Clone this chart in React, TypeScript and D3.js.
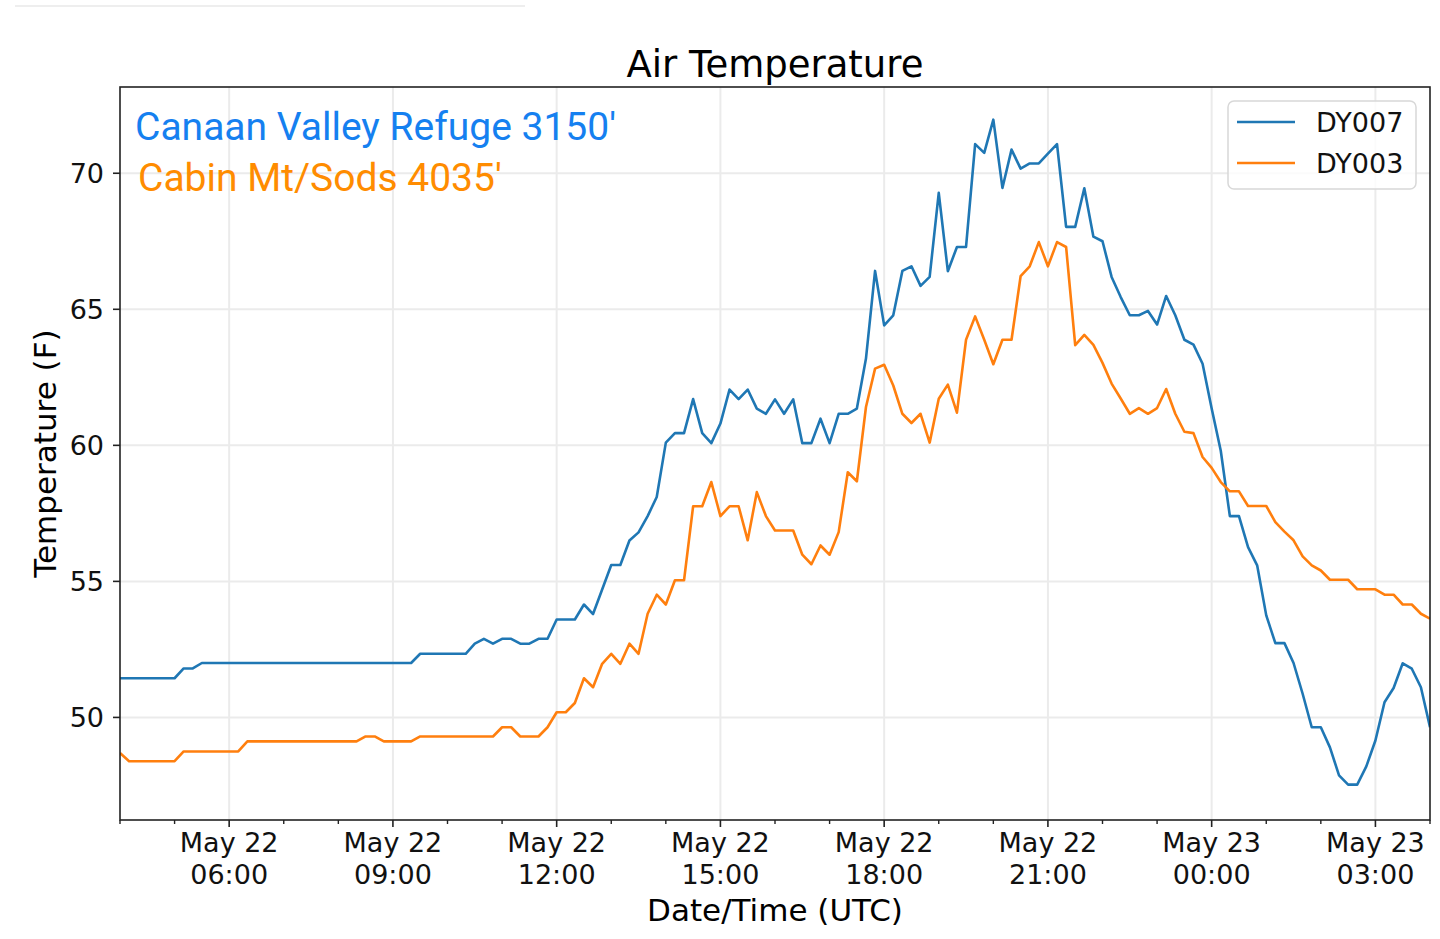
import React, { FC, useMemo } from "react";
import * as d3 from "d3";

// 10-minute samples, May 22 04:00 UTC to May 23 04:00 UTC
const startTime = "2019-05-22T04:00:00Z";
const endTime = "2019-05-23T04:00:00Z";
const stepMinutes = 10;

const seriesNames = ["DY007", "DY003"];

const dy007 = [
    51.44, 51.44, 51.44, 51.44, 51.44, 51.44, 51.44,
    51.8, 51.8,
    52.0, 52.0, 52.0, 52.0, 52.0, 52.0, 52.0, 52.0, 52.0, 52.0, 52.0, 52.0,
    52.0, 52.0, 52.0, 52.0, 52.0, 52.0, 52.0, 52.0, 52.0, 52.0, 52.0, 52.0,
    52.34, 52.34, 52.34, 52.34, 52.34, 52.34,
    52.71, 52.89, 52.71, 52.89, 52.89, 52.71, 52.71, 52.89, 52.89,
    53.6, 53.6, 53.6, 54.15, 53.8, 54.7, 55.6, 55.6, 56.5, 56.8, 57.4, 58.1,
    60.1, 60.45, 60.45, 61.7, 60.45, 60.08, 60.8, 62.05, 61.7, 62.05,
    61.35, 61.16, 61.69, 61.16, 61.69, 60.08, 60.08, 60.98, 60.08, 61.16,
    61.16, 61.35, 63.19, 66.41, 64.41, 64.78, 66.41, 66.58, 65.86, 66.19,
    69.28, 66.4, 67.29, 67.29, 71.07, 70.75, 71.97, 69.46, 70.87, 70.17,
    70.36, 70.36, 70.72, 71.07, 68.03, 68.03, 69.45, 67.67, 67.5, 66.19,
    65.45, 64.78, 64.78, 64.94, 64.44, 65.49, 64.78, 63.88, 63.7, 63.0,
    61.35, 59.8, 57.4, 57.4, 56.26, 55.59, 53.75, 52.73, 52.73, 52.0,
    50.87, 49.64, 49.64, 48.9, 47.87, 47.53, 47.53, 48.2, 49.15, 50.56,
    51.08, 51.99, 51.79, 51.11, 49.64,
];

const dy003 = [
    48.69,
    48.39, 48.39, 48.39, 48.39, 48.39, 48.39,
    48.75, 48.75, 48.75, 48.75, 48.75, 48.75, 48.75,
    49.12, 49.12, 49.12, 49.12, 49.12, 49.12, 49.12, 49.12, 49.12, 49.12, 49.12, 49.12, 49.12,
    49.3, 49.3,
    49.12, 49.12, 49.12, 49.12,
    49.3, 49.3, 49.3, 49.3, 49.3, 49.3, 49.3, 49.3, 49.3,
    49.64, 49.64, 49.3, 49.3, 49.3, 49.64,
    50.19, 50.19, 50.53, 51.44, 51.11, 51.97, 52.34, 51.97, 52.71, 52.34, 53.81, 54.51,
    54.15, 55.04, 55.04, 57.76, 57.76, 58.65, 57.4, 57.76, 57.76, 56.51,
    58.28, 57.4, 56.87, 56.87, 56.87, 55.98, 55.63, 56.32, 55.98, 56.81,
    59.01, 58.68, 61.41, 62.82, 62.96, 62.2, 61.16, 60.82, 61.16, 60.1,
    61.71, 62.23, 61.2, 63.88, 64.74, 63.88, 62.98, 63.88, 63.88, 66.22,
    66.58, 67.47, 66.58, 67.47, 67.29, 63.68, 64.06, 63.69, 63.03, 62.27,
    61.72, 61.16, 61.37, 61.16, 61.37, 62.07, 61.16, 60.5, 60.45, 59.57,
    59.17, 58.65, 58.31, 58.31, 57.77, 57.77, 57.77, 57.18, 56.83, 56.51,
    55.92, 55.59, 55.4, 55.06, 55.06, 55.06, 54.71, 54.71, 54.71, 54.51,
    54.51, 54.15, 54.15, 53.81, 53.63,
];

const yTickValues = [50, 55, 60, 65, 70];
const yDomain = [46.23, 73.17];

const title = "Air Temperature";
const xLabel = "Date/Time (UTC)";
const yLabel = "Temperature (F)";
const stationLabels = ["Canaan Valley Refuge 3150'", "Cabin Mt/Sods 4035'"];

const blueColor = "#1f77b4";
const orangeColor = "#ff7f0e";
const labelColors = ["#1580f0", "#ff8c00"];
const gridColor = "#ebebeb";
const axisFont = "'DejaVu Sans', sans-serif";

const width = 1440;
const height = 939;
const marginLeft = 120;
const marginRight = 10;
const marginTop = 87;
const marginBottom = 119;

const App: FC = () => {
    const times = useMemo(() => {
        const t0 = new Date(startTime).getTime();
        return dy007.map((_, i) => new Date(t0 + i * stepMinutes * 60000));
    }, []);

    const x = useMemo(
        () =>
            d3.scaleUtc(
                [new Date(startTime), new Date(endTime)],
                [marginLeft, width - marginRight]
            ),
        []
    );

    const y = useMemo(
        () => d3.scaleLinear(yDomain, [height - marginBottom, marginTop]),
        []
    );

    const majorTicks = x.ticks(d3.utcHour.every(3) as any);
    const minorTicks = x
        .ticks(d3.utcHour.every(1) as any)
        .filter((d: Date) => d.getUTCHours() % 3 !== 0);

    const fmtDay = d3.utcFormat("%b %d");
    const fmtHour = d3.utcFormat("%H:%M");

    const line = d3
        .line<number>()
        .x((_, i) => x(times[i]))
        .y((d) => y(d));

    const plotRight = width - marginRight;
    const plotBottom = height - marginBottom;
    const plotCx = (marginLeft + plotRight) / 2;

    return (
        <svg
            width={width}
            height={height}
            style={{ position: "absolute", top: 0, left: 0, display: "block", background: "#fff" }}
        >
            <line x1={15} x2={525} y1={6} y2={6} stroke="#eeeeee" strokeWidth={2} />

            {/* grid */}
            <g>
                {majorTicks.map((d: Date, i: number) => (
                    <line
                        key={"vx" + i}
                        x1={x(d)}
                        x2={x(d)}
                        y1={marginTop}
                        y2={plotBottom}
                        stroke={gridColor}
                        strokeWidth={2}
                    />
                ))}
                {yTickValues.map((d, i) => (
                    <line
                        key={"hy" + i}
                        x1={marginLeft}
                        x2={plotRight}
                        y1={y(d)}
                        y2={y(d)}
                        stroke={gridColor}
                        strokeWidth={2}
                    />
                ))}
            </g>

            {/* series */}
            <g clipPath="url(#plotClip)">
                <defs>
                    <clipPath id="plotClip">
                        <rect x={marginLeft} y={marginTop} width={plotRight - marginLeft} height={plotBottom - marginTop} />
                    </clipPath>
                </defs>
                <path d={line(dy007) || ""} fill="none" stroke={blueColor} strokeWidth={2.6} strokeLinejoin="round" />
                <path d={line(dy003) || ""} fill="none" stroke={orangeColor} strokeWidth={2.6} strokeLinejoin="round" />
            </g>

            {/* frame */}
            <rect
                x={marginLeft}
                y={marginTop}
                width={plotRight - marginLeft}
                height={plotBottom - marginTop}
                fill="none"
                stroke="#222"
                strokeWidth={1.6}
            />

            {/* x axis */}
            <g fontFamily={axisFont} fontSize={27} fill="#111">
                {minorTicks.map((d: Date, i: number) => (
                    <line key={"mn" + i} x1={x(d)} x2={x(d)} y1={plotBottom} y2={plotBottom + 4} stroke="#222" strokeWidth={1.4} />
                ))}
                {majorTicks.map((d: Date, i: number) => (
                    <g key={"mj" + i} transform={`translate(${x(d)},0)`}>
                        <line y1={plotBottom} y2={plotBottom + 7} stroke="#222" strokeWidth={1.6} />
                        <text y={852} textAnchor="middle">{fmtDay(d)}</text>
                        <text y={884} textAnchor="middle">{fmtHour(d)}</text>
                    </g>
                ))}
            </g>

            {/* y axis */}
            <g fontFamily={axisFont} fontSize={27} fill="#111">
                {yTickValues.map((d, i) => (
                    <g key={"yt" + i} transform={`translate(0,${y(d)})`}>
                        <line x1={marginLeft - 7} x2={marginLeft} stroke="#222" strokeWidth={1.6} />
                        <text x={marginLeft - 16} dy="0.36em" textAnchor="end">{d}</text>
                    </g>
                ))}
            </g>

            {/* titles */}
            <text x={plotCx} y={77} textAnchor="middle" fontFamily={axisFont} fontSize={37} fill="#000">
                {title}
            </text>
            <text x={plotCx} y={921} textAnchor="middle" fontFamily={axisFont} fontSize={31} fill="#000">
                {xLabel}
            </text>
            <text
                transform={`translate(56,${(marginTop + plotBottom) / 2}) rotate(-90)`}
                textAnchor="middle"
                fontFamily={axisFont}
                fontSize={31}
                fill="#000"
            >
                {yLabel}
            </text>

            {/* station annotations */}
            <text x={135} y={140} fontFamily="Roboto, sans-serif" fontSize={39} fill={labelColors[0]}>
                {stationLabels[0]}
            </text>
            <text x={138} y={191} fontFamily="Roboto, sans-serif" fontSize={39} fill={labelColors[1]}>
                {stationLabels[1]}
            </text>

            {/* legend */}
            <g fontFamily={axisFont} fontSize={27} fill="#111">
                <rect x={1228} y={101} width={188} height={88} rx={6} fill="#fff" fillOpacity={0.8} stroke="#d8d8d8" strokeWidth={1.5} />
                {seriesNames.map((name, i) => (
                    <g key={name} transform={`translate(0,${122 + i * 41})`}>
                        <line x1={1237} x2={1295} stroke={i === 0 ? blueColor : orangeColor} strokeWidth={2.6} />
                        <text x={1316} dy="0.36em">{name}</text>
                    </g>
                ))}
            </g>
        </svg>
    );
};

export default App;
